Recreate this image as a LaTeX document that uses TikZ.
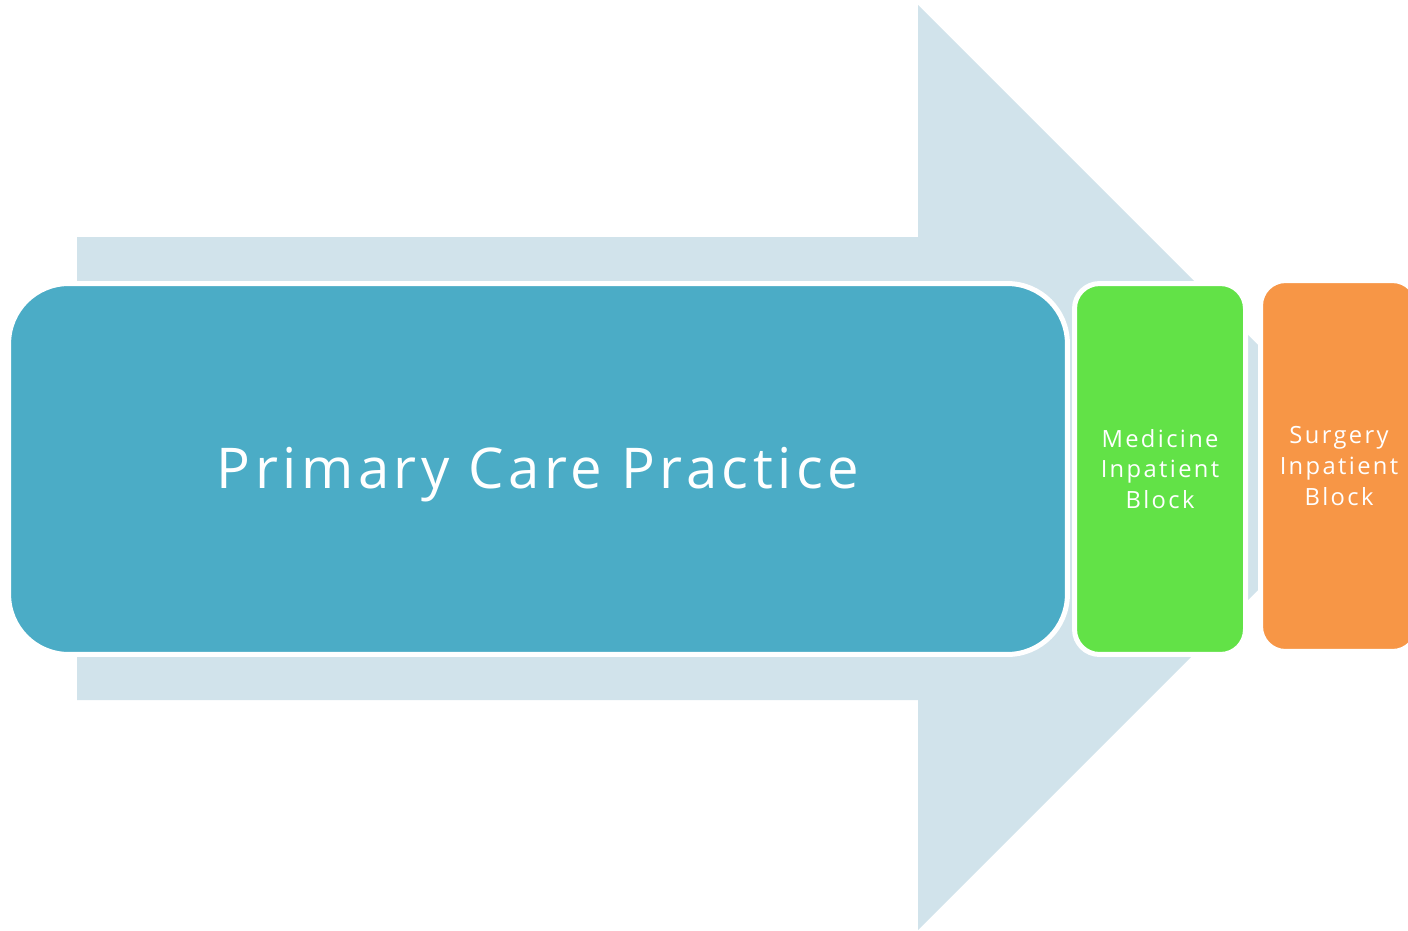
\documentclass[tikz,border=0pt]{standalone}
\usepackage{fontspec}
\setmainfont{Open Sans}
\definecolor{arrowback}{RGB}{209,227,235}
\definecolor{careblue}{RGB}{75,172,198}
\definecolor{medgreen}{RGB}{98,226,71}
\definecolor{surgorange}{RGB}{247,150,70}
\begin{document}
\begin{tikzpicture}[x=0.02cm,y=-0.02cm,
        block/.style={draw=white, line width=0.1cm, rounded corners=0.5cm, minimum width=3.42cm, minimum height=7.42cm, inner sep=0pt, text=white, align=center, font=\fontsize{13.5}{17.4}\selectfont\addfontfeature{LetterSpace=10}}]
                \useasboundingbox (0,0) rectangle (1408,930);
                \clip (0,0) rectangle (1408,930);
                \fill[arrowback] (77,237) -- (918,237) -- (918,5) -- (1380.5,467.5) -- (918,930) -- (918,700) -- (77,700) -- cycle;
                \node[block, fill=careblue, rounded corners=1.2cm, minimum width=21.18cm, text height=0.8cm, text depth=0.04cm, font=\fontsize{32}{38}\selectfont\addfontfeature{LetterSpace=8}] (care) at (538,469) {Primary Care Practice};
                \node[block, fill=medgreen] (medicine) at (1160,469) {Medicine\\Inpatient\\Block};
                \node[block, fill=surgorange, minimum width=3.14cm] (surgery) at (1339,466) {Surgery\\Inpatient\\Block};
            \end{tikzpicture}
\end{document}
